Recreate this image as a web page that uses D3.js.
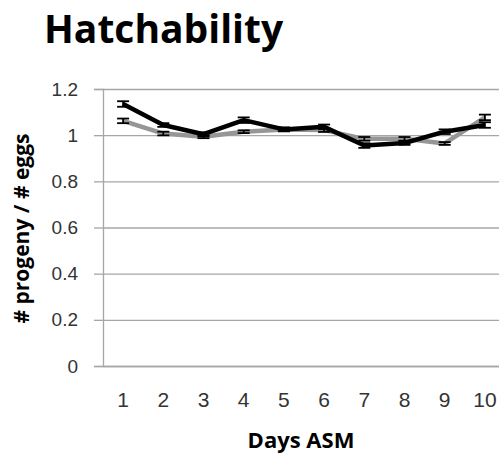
<!DOCTYPE html>
<html>
<head>
<meta charset="utf-8">
<script src="https://cdn.jsdelivr.net/npm/d3@7"></script>
<style>
  body { margin: 0; background: #fff; }
  svg { display: block; font-family: "Open Sans", "DejaVu Sans", sans-serif; }
</style>
</head>
<body>
<div id="chart"></div>
<script>
const days = [1, 2, 3, 4, 5, 6, 7, 8, 9, 10];
const blackVals = [1.135, 1.044, 1.004, 1.065, 1.025, 1.036, 0.955, 0.966, 1.015, 1.044];
const blackErr  = [0.012, 0.008, 0.008, 0.012, 0.008, 0.010, 0.010, 0.008, 0.010, 0.012];
const grayVals  = [1.062, 1.007, 0.993, 1.015, 1.025, 1.022, 0.984, 0.984, 0.964, 1.077];
const grayErr   = [0.010, 0.008, 0.006, 0.006, 0.008, 0.008, 0.008, 0.008, 0.006, 0.012];
const yTicks = [0, 0.2, 0.4, 0.6, 0.8, 1, 1.2];

const W = 499, H = 456;
const M = { top: 89, right: -6, bottom: 90, left: 103 };

const svg = d3.select("#chart").append("svg").attr("width", W).attr("height", H);

const x = d3.scaleBand().domain(days).range([M.left, W - M.right]);
const y = d3.scaleLinear().domain([0, 1.2]).range([H - M.bottom, M.top]);

// gridlines
svg.append("g").attr("transform", `translate(${M.left},0)`)
  .call(d3.axisLeft(y).tickValues(yTicks).tickSize(-(W - M.left - M.right)).tickFormat(""))
  .call((g) => g.select(".domain").remove())
  .call((g) => g.selectAll("line").attr("stroke", "#a6a6a6").attr("stroke-width", 1.3));

// y axis
const ay = svg.append("g").attr("transform", `translate(${M.left},0)`)
  .call(d3.axisLeft(y).tickValues(yTicks).tickSize(9).tickPadding(16).tickFormat((d) => d));
ay.select(".domain").attr("stroke", "#a6a6a6").attr("stroke-width", 1.3);
ay.selectAll("line").attr("stroke", "#a6a6a6").attr("stroke-width", 1.3);
ay.selectAll("text").style("font-size", "19px").attr("fill", "#333");

// x axis
const ax = svg.append("g").attr("transform", `translate(0,${H - M.bottom})`)
  .call(d3.axisBottom(x).tickSize(0).tickPadding(26));
ax.select(".domain").attr("stroke", "#a6a6a6").attr("stroke-width", 1.3);
ax.selectAll("text").style("font-size", "21px").attr("fill", "#333");

const cx = (d) => x(d) + x.bandwidth() / 2;

function series(vals, errs, color) {
  const pts = days.map((d, i) => ({ d, v: vals[i], e: errs[i] }));
  svg.append("path").datum(pts)
    .attr("fill", "none").attr("stroke", color).attr("stroke-width", 4.5)
    .attr("stroke-linejoin", "round")
    .attr("d", d3.line().x((p) => cx(p.d)).y((p) => y(p.v)));
  const eb = svg.append("g").attr("stroke", "#000").attr("stroke-width", 1.8);
  eb.selectAll(".v").data(pts).join("line")
    .attr("x1", (p) => cx(p.d)).attr("x2", (p) => cx(p.d))
    .attr("y1", (p) => y(p.v - p.e)).attr("y2", (p) => y(p.v + p.e));
  eb.selectAll(".t").data(pts).join("line")
    .attr("x1", (p) => cx(p.d) - 6).attr("x2", (p) => cx(p.d) + 6)
    .attr("y1", (p) => y(p.v + p.e)).attr("y2", (p) => y(p.v + p.e));
  eb.selectAll(".b").data(pts).join("line")
    .attr("x1", (p) => cx(p.d) - 6).attr("x2", (p) => cx(p.d) + 6)
    .attr("y1", (p) => y(p.v - p.e)).attr("y2", (p) => y(p.v - p.e));
}
series(grayVals, grayErr, "#969696");
series(blackVals, blackErr, "#000");

// titles
svg.append("text").attr("x", 44).attr("y", 43)
  .style("font-size", "39px").style("font-weight", "bold").attr("fill", "#000")
  .text("Hatchability");

svg.append("text").attr("transform", `translate(29,${(y(0) + y(1.2)) / 2 + 1}) rotate(-90)`)
  .attr("text-anchor", "middle").style("font-size", "21px").style("font-weight", "bold")
  .attr("fill", "#000").text("# progeny / # eggs");

svg.append("text").attr("x", 301).attr("y", 448).attr("text-anchor", "middle")
  .style("font-size", "22px").style("font-weight", "bold").attr("fill", "#000")
  .text("Days ASM");
</script>
</body>
</html>
